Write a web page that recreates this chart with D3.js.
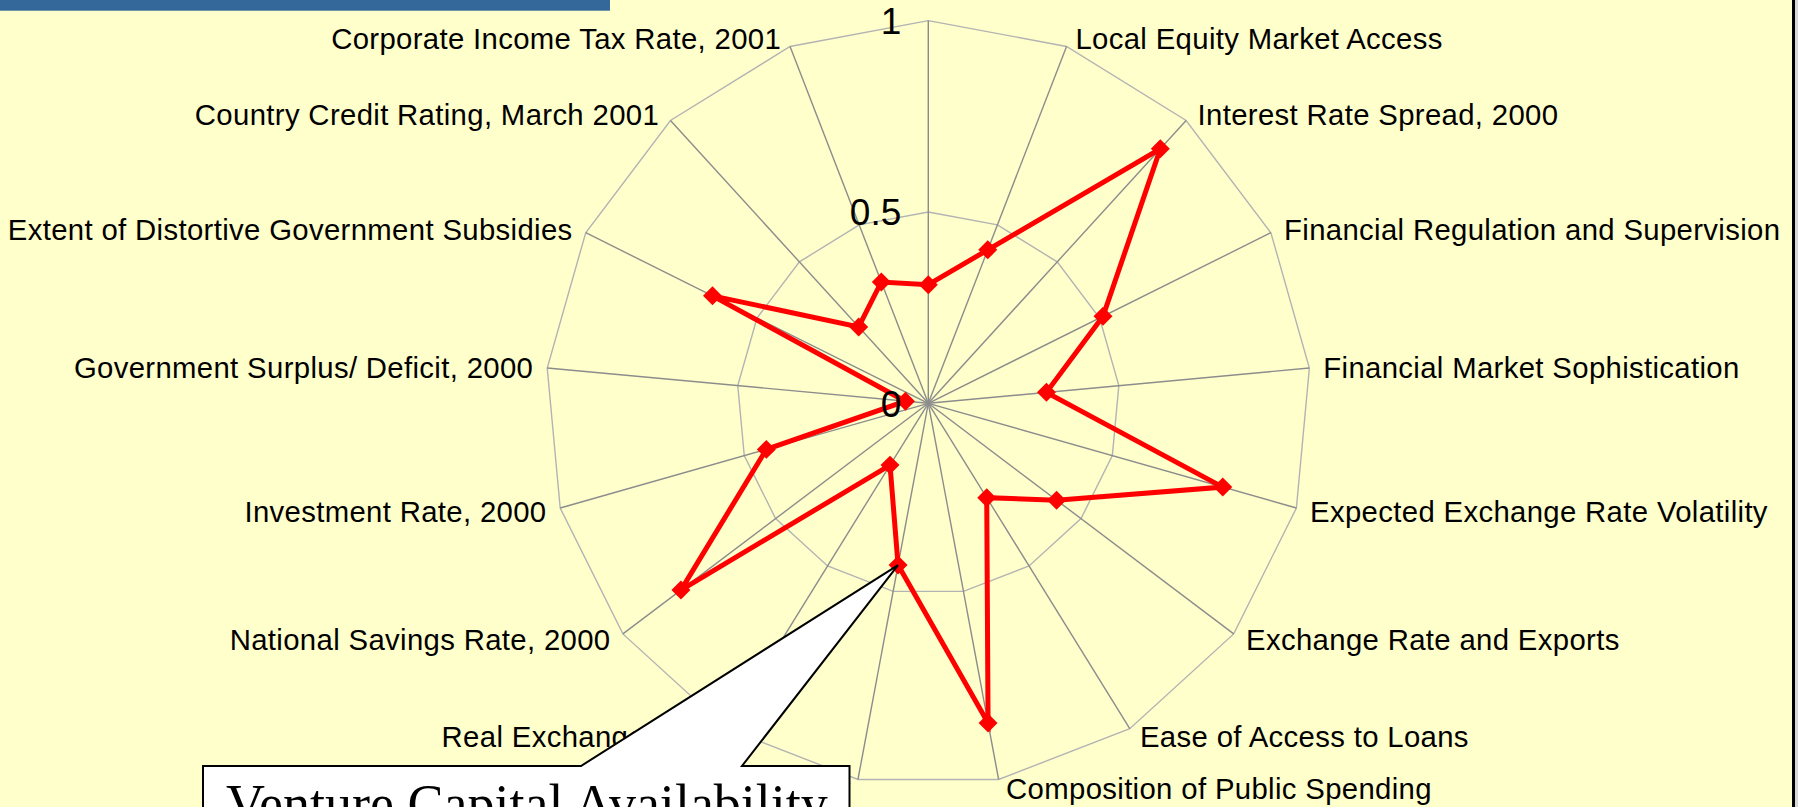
<!DOCTYPE html>
<html>
<head>
<meta charset="utf-8">
<script src="https://cdn.jsdelivr.net/npm/d3@7"></script>
<style>
html,body{margin:0;padding:0;background:#FFFFCC;overflow:hidden;}
svg{display:block;}
</style>
</head>
<body>
<svg id="chart" width="1798" height="807"></svg>
<script>
const categories = [
  "",
  "Local Equity Market Access",
  "Interest Rate Spread, 2000",
  "Financial Regulation and Supervision",
  "Financial Market Sophistication",
  "Expected Exchange Rate Volatility",
  "Exchange Rate and Exports",
  "Ease of Access to Loans",
  "Composition of Public Spending",
  "Venture Capital Availability",
  "Real Exchange Rate",
  "National Savings Rate, 2000",
  "Investment Rate, 2000",
  "Government Surplus/ Deficit, 2000",
  "Extent of Distortive Government Subsidies",
  "Country Credit Rating, March 2001",
  "Corporate Income Tax Rate, 2001"
];
const values = [0.31, 0.43, 0.90, 0.51, 0.31, 0.80, 0.42, 0.29, 0.85, 0.43, 0.19, 0.81, 0.44, 0.06, 0.63, 0.27, 0.34];
const ringTicks = [0, 0.5, 1];
const tickLabels = ["0", "0.5", "1"];
const calloutText = "Venture Capital Availability";
const calloutIndex = 9;

const W = 1798, H = 807;
const cx = 928.3, cy = 403.3, R = 382.7;
const svg = d3.select("#chart");

// background
svg.append("rect").attr("x", 0).attr("y", 0).attr("width", W).attr("height", H).attr("fill", "#FFFFCC");
// slide edge on right
svg.append("rect").attr("x", 1795).attr("y", 0).attr("width", 3).attr("height", H).attr("fill", "#d8d8d8");
svg.append("rect").attr("x", 1792).attr("y", 0).attr("width", 3).attr("height", H).attr("fill", "#000");
// blue title bar at top-left
svg.append("rect").attr("x", 0).attr("y", 0).attr("width", 610).attr("height", 10.7).attr("fill", "#35689A");

const n = categories.length;
const angle = d3.scaleLinear().domain([0, n]).range([0, 2 * Math.PI]);
const r = d3.scaleLinear().domain([0, 1]).range([0, R]);

const g = svg.append("g").attr("transform", `translate(${cx},${cy})`);

// rings
const ringLine = d3.lineRadial().angle((d, i) => angle(i)).radius(d => r(d)).curve(d3.curveLinearClosed);
ringTicks.filter(t => t > 0).forEach(t => {
  g.append("path").attr("d", ringLine(d3.range(n).map(() => t)))
    .attr("fill", "none").attr("stroke", "#b3b3b3").attr("stroke-width", 1.4);
});

// spokes
g.selectAll("line.spoke").data(d3.range(n)).join("line")
  .attr("class", "spoke")
  .attr("x1", 0).attr("y1", 0)
  .attr("x2", i => d3.pointRadial(angle(i), r(1))[0])
  .attr("y2", i => d3.pointRadial(angle(i), r(1))[1])
  .attr("stroke", "#8c8c8c").attr("stroke-width", 1.4);

// series line
const seriesLine = d3.lineRadial().angle((d, i) => angle(i)).radius(d => r(d)).curve(d3.curveLinearClosed);
g.append("path").attr("d", seriesLine(values))
  .attr("fill", "none").attr("stroke", "#FF0000").attr("stroke-width", 5).attr("stroke-linejoin", "miter");

// markers (diamonds)
const diamond = d3.symbol().type(d3.symbolSquare).size(180);
g.selectAll("path.mk").data(values).join("path")
  .attr("class", "mk")
  .attr("d", diamond)
  .attr("transform", (d, i) => {
    const p = d3.pointRadial(angle(i), r(d));
    return `translate(${p[0]},${p[1]}) rotate(45)`;
  })
  .attr("fill", "#FF0000");

// tick labels
g.selectAll("text.tick").data(ringTicks).join("text")
  .attr("class", "tick")
  .attr("x", -27)
  .attr("y", d => -r(d))
  .attr("dy", "0.36em")
  .attr("text-anchor", "end")
  .attr("font-family", "'Liberation Sans', Arial, sans-serif")
  .attr("font-size", 37)
  .attr("fill", "#000")
  .text((d, i) => tickLabels[i]);

// category labels
g.selectAll("text.cat").data(categories).join("text")
  .attr("class", "cat")
  .each(function(d, i) {
    if (!d) return;
    const a = angle(i);
    const p = d3.pointRadial(a, r(1));
    const s = Math.sin(a), c = Math.cos(a);
    const off = 6 + 8 * Math.abs(s);
    const sel = d3.select(this);
    let anchor = "middle", x = p[0];
    if (s > 0.01) { anchor = "start"; x = p[0] + off; }
    else if (s < -0.01) { anchor = "end"; x = p[0] - off; }
    sel.attr("x", x)
      .attr("y", p[1] - 9 * c + 0.5)
      .attr("dy", "0.36em")
      .attr("text-anchor", anchor)
      .attr("font-family", "'Liberation Sans', Arial, sans-serif")
      .attr("font-size", 29.3)
      .attr("letter-spacing", "0.35px")
      .attr("fill", "#000")
      .text(d);
  });

// callout
const tip = d3.pointRadial(angle(calloutIndex), r(values[calloutIndex]));
const tipX = cx + tip[0], tipY = cy + tip[1];
const boxL = 203, boxR = 849.5, boxT = 766, boxB = 840;
const baseL = 581, baseR = 742;
const callout = svg.append("g");
callout.append("path")
  .attr("d", `M${boxL},${boxT} L${baseL},${boxT} L${tipX},${tipY} L${baseR},${boxT} L${boxR},${boxT} L${boxR},${boxB} L${boxL},${boxB} Z`)
  .attr("fill", "#fff").attr("stroke", "#000").attr("stroke-width", 2).attr("stroke-linejoin", "miter");
callout.append("text")
  .attr("x", 226).attr("y", 822)
  .attr("font-family", "'Liberation Serif', 'Times New Roman', serif")
  .attr("font-size", 54)
  .attr("fill", "#000")
  .text(calloutText);
</script>
</body>
</html>
